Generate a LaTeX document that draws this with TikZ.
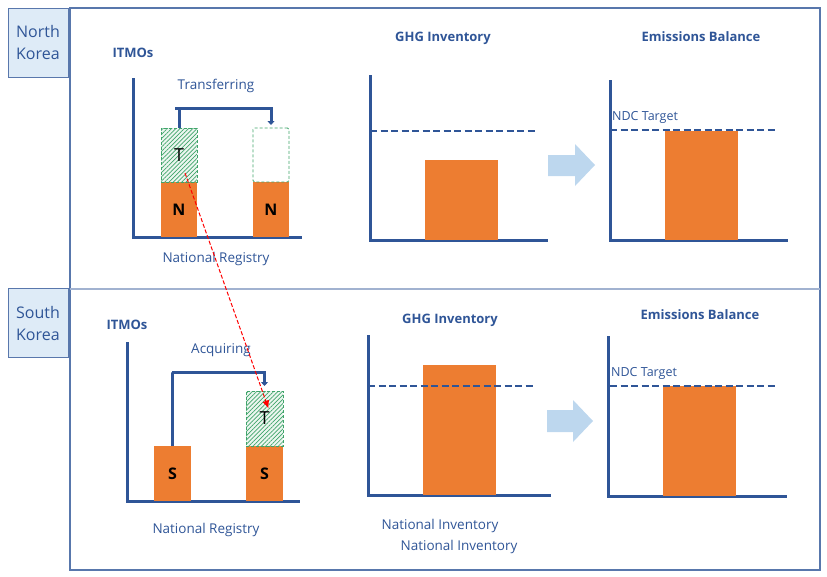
\documentclass[tikz,border=0pt]{standalone}
\usepackage{fontspec}
\setsansfont{Open Sans}
\usepackage{xcolor}
\usepackage{tikz}
\usetikzlibrary{positioning, arrows.meta, patterns.meta}

\definecolor{navy}{HTML}{2F5597}
\definecolor{barorange}{HTML}{ED7D31}
\definecolor{tagblue}{HTML}{DEEBF7}
\definecolor{hatchgreen}{HTML}{3FA46A}
\definecolor{arrowblue}{HTML}{BDD7EE}

\tikzset{
  axis/.style={navy, line width=3pt},
  target/.style={navy, line width=2.6pt, dash pattern=on 7pt off 3.5pt},
  bar/.style={fill=barorange, inner sep=0pt, outer sep=0pt, font=\sffamily\bfseries\fontsize{16}{16}\selectfont},
  tbox/.style={pattern={Lines[angle=45, distance=3pt, line width=0.7pt]}, pattern color=hatchgreen, preaction={fill=hatchgreen!10}, draw=hatchgreen, densely dashed, line width=0.6pt, inner sep=0pt, outer sep=0pt, font=\sffamily\fontsize{18}{18}\selectfont},
  ebox/.style={draw=hatchgreen, densely dashed, line width=0.9pt, rounded corners=1.5pt, inner sep=0pt, outer sep=0pt},
  title/.style={navy, font=\sffamily\bfseries\fontsize{13}{13}\selectfont},
  lbl/.style={navy, font=\sffamily\fontsize{13.5}{14}\selectfont},
  tag/.style={draw=navy!80, fill=tagblue, line width=1pt, minimum width=60pt, minimum height=69pt, align=left, text=navy, font=\sffamily\fontsize{16}{22}\selectfont},
  flow/.style={fill=arrowblue},
  link/.style={navy, line width=3pt, -{Triangle[length=4pt,width=7pt]}},
}

\begin{document}
\begin{tikzpicture}[x=1pt, y=-1pt]
\useasboundingbox (0,0) rectangle (827,576);

% frame and country tags
\draw[navy!80, line width=1.8pt] (70,8) rectangle (820,570);
\draw[navy!45, line width=1.4pt] (70,289) -- (820,289);
\node[tag] (north) at (38,42.5) {North\\Korea};
\node[tag] (south) at (38,323) {South\\Korea};

% ---- North Korea: ITMOs ----
\node[title] (nitmo) at (133,53) {ITMOs};
\draw[axis] (133,78) -- (133,237) -- (302,237);
\node[bar, minimum width=36pt, minimum height=55pt] (nkN) at (179,209.5) {N};
\node[tbox, minimum width=36pt, minimum height=54pt] (nkT) at (179,155) {T};
\node[bar, minimum width=36pt, minimum height=55pt] (nkN2) at (271,209.5) {N};
\node[ebox, minimum width=36pt, minimum height=54pt] (nkE) at (271,155) {};
\draw[link] (nkT.north) |- (175,108) -| ([yshift=3pt]nkE.north);
\node[lbl] (transfer) at (216,86) {Transferring};
\node[lbl] (nreg) at (216,259) {National Registry};

% ---- North Korea: GHG inventory ----
\node[title] (nghg) at (443,38) {GHG Inventory};
\draw[axis] (370,75) -- (370,240) -- (548,240);
\node[bar, minimum width=73pt, minimum height=80pt] (nghgbar) at (461.5,200) {};
\draw[target] (370,131) -- (538,131);
\fill[flow] (548,155) -- (575,155) -- (575,144) -- (595,165) -- (575,186) -- (575,176) -- (548,176) -- cycle;

% ---- North Korea: emissions balance ----
\node[title] (nem) at (701,37) {Emissions Balance};
\draw[axis] (610,80) -- (610,240) -- (788,240);
\node[bar, minimum width=73pt, minimum height=109pt] (nembar) at (701.5,185.5) {};
\draw[target] (610,130) -- (778,130);
\node[lbl, anchor=west, inner sep=0pt, font=\sffamily\fontsize{12.5}{13}\selectfont] (nndc) at (612,117) {NDC Target};

% ---- South Korea: ITMOs ----
\node[title] (sitmo) at (127,325) {ITMOs};
\draw[axis] (127,342) -- (127,501) -- (300,501);
\node[bar, minimum width=37pt, minimum height=55pt] (skS) at (172.5,473.5) {S};
\node[bar, minimum width=37pt, minimum height=55pt] (skS2) at (264.5,473.5) {S};
\node[tbox, minimum width=37pt, minimum height=55pt] (skT) at (264.5,418.5) {T};
\draw[link] (skS.north) |- (172,372) -| ([yshift=5pt]skT.north);
\node[lbl] (acquire) at (221,350) {Acquiring};
\node[lbl] (sreg) at (206,530) {National Registry};

% ---- South Korea: GHG inventory ----
\node[title] (sghg) at (450,320) {GHG Inventory};
\draw[axis] (368,335) -- (368,495) -- (551,495);
\node[bar, minimum width=73pt, minimum height=130pt] (sghgbar) at (459.5,430) {};
\draw[target] (368,386) -- (535,386);
\fill[flow] (547,410) -- (573,410) -- (573,400) -- (593,421) -- (573,442) -- (573,432) -- (547,432) -- cycle;
\node[lbl] (sinv1) at (440,526) {National Inventory};
\node[lbl] (sinv2) at (459,547) {National Inventory};

% ---- South Korea: emissions balance ----
\node[title] (sem) at (700,315) {Emissions Balance};
\draw[axis] (608,336) -- (608,496) -- (787,496);
\node[bar, minimum width=73pt, minimum height=110pt] (sembar) at (699.5,441) {};
\draw[target] (610,386) -- (777,386);
\node[lbl, anchor=west, inner sep=0pt, font=\sffamily\fontsize{12.5}{13}\selectfont] (sndc) at (611,373) {NDC Target};

% transfer of T units
\draw[red, line width=1pt, dash pattern=on 4pt off 2pt, -{Latex[length=8pt,width=7pt]}] ([xshift=6pt,yshift=-18pt]nkT.center) -- ([xshift=4pt,yshift=10pt]skT.center);
\end{tikzpicture}
\end{document}
